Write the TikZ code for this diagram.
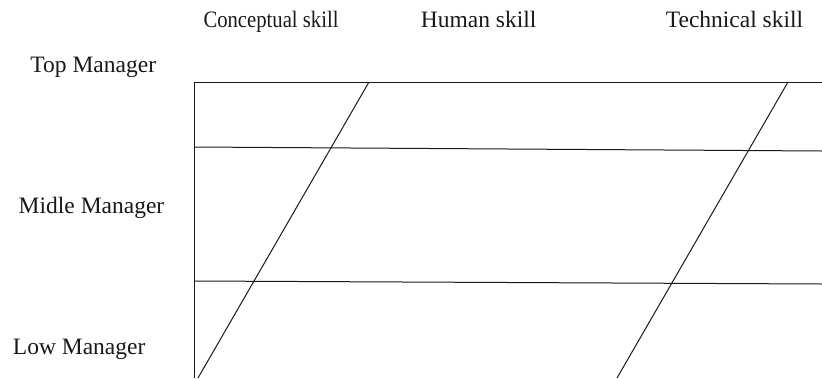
\documentclass[tikz,border=0pt]{standalone}
\usepackage{fontspec}
\setmainfont{Liberation Serif}
\begin{document}
\begin{tikzpicture}[x=1pt,y=-1pt,
  lbl/.style={anchor=base,inner sep=0pt,font=\fontsize{23.5}{28}\selectfont,text=black!90},
  ln/.style={line width=1pt,black!90}]
\useasboundingbox (0,0) rectangle (822,378);
% labels
\node[lbl] (cs) at (271,27.7) {\scalebox{0.88}[1]{Conceptual skill}};
\node[lbl] (hs) at (478.7,27.7) {Human skill};
\node[lbl] (ts) at (734.5,27.7) {Technical skill};
\node[lbl] (tm) at (93.3,72.7) {Top Manager};
\node[lbl] (mm) at (91.5,213.3) {Midle Manager};
\node[lbl] (lm) at (79.2,354) {Low Manager};
% frame points
\coordinate (tl) at (194,82);
\coordinate (tr) at (822,82);
\coordinate (bl) at (194,378);
\coordinate (m1l) at (194,147);
\coordinate (m1r) at (822,151);
\coordinate (m2l) at (194,281);
\coordinate (m2r) at (822,284);
\coordinate (d1t) at (369,82);
\coordinate (d1b) at (198,378);
\coordinate (d2t) at (788,82);
\coordinate (d2b) at (617,378);
\draw[ln] (tr) -- (tl) -- (bl);
\draw[ln] (m1l) -- (m1r);
\draw[ln] (m2l) -- (m2r);
\draw[ln] (d1t) -- (d1b);
\draw[ln] (d2t) -- (d2b);
\end{tikzpicture}
\end{document}
